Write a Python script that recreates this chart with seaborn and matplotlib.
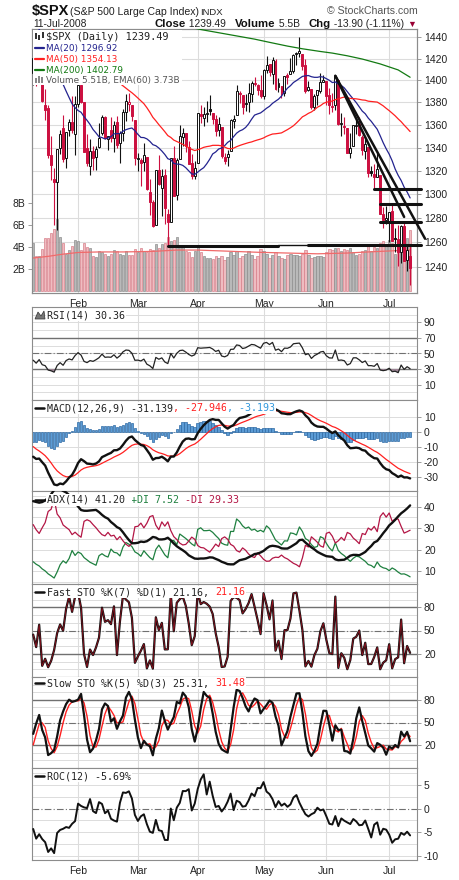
import numpy as np
import pandas as pd
import seaborn as sns
import matplotlib
matplotlib.use("Agg")
from matplotlib import pyplot as plt
from matplotlib import font_manager
from matplotlib.lines import Line2D
from matplotlib.patches import Rectangle, Polygon
from matplotlib.text import Annotation
from matplotlib.ticker import FixedLocator, NullLocator, FuncFormatter

# ---------------------------------------------------------------- data
# closes of Nov 2007, only used to warm up the moving averages / MACD / RSI
nov_close = [1508.44, 1509.65, 1502.17, 1520.27, 1475.62, 1474.77, 1453.70, 1439.18, 1481.05, 1470.58,
             1451.15, 1458.74, 1433.27, 1439.70, 1416.77, 1440.70, 1407.22, 1428.23, 1469.02, 1469.72,
             1481.14]
# sessions 3-Dec-2007 .. 9-Jan-2008 (before the visible window), warm-up for the indicators
prior_high = [1481.16, 1471.34, 1486.09, 1508.02, 1510.63, 1518.27, 1523.57, 1511.96, 1489.40, 1486.67,
              1465.05, 1460.16, 1464.42, 1461.53, 1485.40, 1497.63, 1498.85, 1495.05, 1488.01, 1475.83,
              1471.77, 1456.80, 1444.01, 1423.87, 1430.28, 1409.19]
prior_low = [1470.08, 1460.66, 1465.22, 1482.19, 1502.66, 1504.96, 1475.99, 1468.23, 1469.21, 1467.78,
             1445.43, 1435.65, 1445.31, 1447.22, 1463.19, 1484.55, 1488.20, 1475.86, 1471.70, 1465.13,
             1442.07, 1443.73, 1411.19, 1403.45, 1388.30, 1378.70]
prior_close = [1472.42, 1462.79, 1485.01, 1507.34, 1504.66, 1515.96, 1477.65, 1486.59, 1488.41, 1467.95,
               1445.90, 1454.98, 1453.00, 1460.12, 1484.46, 1496.45, 1497.66, 1476.27, 1478.49, 1468.36,
               1447.16, 1447.16, 1411.63, 1416.18, 1390.19, 1409.13]

# visible sessions 10-Jan-2008 .. 11-Jul-2008
open_ = [1406.78, 1419.91, 1401.60, 1411.88, 1377.41, 1374.79, 1333.90, 1312.94, 1310.41, 1340.13,
         1357.32, 1330.70, 1355.94, 1362.22, 1351.98, 1378.60, 1395.38, 1380.28, 1339.48, 1324.01,
         1336.88, 1331.92, 1340.55, 1353.12, 1367.33, 1347.52, 1355.86, 1348.39, 1362.21, 1344.22,
         1352.75, 1371.76, 1378.95, 1378.16, 1364.07, 1330.45, 1329.58, 1327.69, 1332.20, 1301.53,
         1293.16, 1274.40, 1321.13, 1305.26, 1316.05, 1283.21, 1277.16, 1330.97, 1299.67, 1330.29,
         1349.07, 1352.45, 1340.34, 1327.02, 1315.92, 1326.41, 1369.96, 1365.69, 1369.85, 1373.69,
         1370.16, 1365.50, 1355.37, 1357.98, 1332.20, 1331.72, 1337.02, 1363.37, 1369.00, 1387.72,
         1386.43, 1378.40, 1380.52, 1387.88, 1397.96, 1395.61, 1391.22, 1385.97, 1409.16, 1415.34,
         1405.60, 1417.49, 1394.29, 1394.90, 1388.16, 1404.40, 1405.65, 1408.36, 1423.89, 1425.28,
         1424.49, 1414.06, 1390.83, 1392.20, 1375.97, 1386.54, 1390.50, 1398.36, 1399.62, 1386.42,
         1376.26, 1377.48, 1400.06, 1360.83, 1358.98, 1357.09, 1335.78, 1341.81, 1358.85, 1360.71,
         1349.59, 1336.89, 1341.02, 1319.77, 1317.23, 1314.54, 1316.29, 1283.60, 1278.06, 1276.69,
         1285.82, 1262.96, 1262.90, 1251.84, 1273.38, 1245.25, 1248.66]
high = [1429.09, 1419.91, 1417.28, 1411.88, 1391.99, 1377.72, 1350.28, 1322.09, 1339.09, 1355.15,
        1368.56, 1353.97, 1364.93, 1385.86, 1385.62, 1396.02, 1395.38, 1380.28, 1351.96, 1347.16,
        1341.22, 1341.40, 1362.10, 1369.23, 1368.16, 1350.00, 1367.28, 1363.71, 1367.94, 1354.30,
        1374.36, 1387.34, 1388.34, 1378.16, 1364.07, 1335.13, 1331.03, 1344.19, 1332.20, 1313.24,
        1295.01, 1320.65, 1333.26, 1321.68, 1321.47, 1287.50, 1330.74, 1341.51, 1330.67, 1359.68,
        1357.47, 1352.45, 1345.62, 1334.87, 1328.52, 1370.18, 1377.95, 1375.66, 1380.91, 1386.74,
        1370.16, 1368.39, 1367.24, 1357.98, 1335.64, 1337.72, 1365.49, 1368.60, 1395.90, 1390.23,
        1386.43, 1387.87, 1397.72, 1399.11, 1402.90, 1397.00, 1404.57, 1410.07, 1422.72, 1415.34,
        1421.57, 1419.54, 1402.35, 1394.90, 1404.10, 1406.30, 1420.19, 1424.40, 1425.82, 1440.24,
        1424.49, 1419.12, 1399.07, 1392.20, 1387.40, 1391.25, 1406.32, 1404.46, 1399.62, 1393.12,
        1388.18, 1404.05, 1400.06, 1370.63, 1366.84, 1357.09, 1353.03, 1360.03, 1364.70, 1366.59,
        1350.83, 1347.66, 1341.02, 1323.78, 1326.02, 1335.63, 1316.29, 1289.45, 1290.31, 1285.31,
        1292.17, 1271.48, 1273.95, 1274.17, 1277.36, 1257.65, 1257.27]
low = [1395.31, 1394.83, 1399.00, 1380.60, 1364.27, 1330.67, 1312.51, 1274.29, 1270.05, 1334.31,
       1327.50, 1322.26, 1350.19, 1352.95, 1334.08, 1375.93, 1379.69, 1336.64, 1324.34, 1316.75,
       1321.06, 1320.32, 1339.36, 1350.78, 1347.31, 1338.13, 1345.05, 1336.55, 1339.34, 1327.04,
       1346.03, 1363.29, 1372.00, 1363.16, 1325.42, 1320.04, 1307.39, 1320.22, 1303.42, 1282.43,
       1272.66, 1274.40, 1307.86, 1282.11, 1274.86, 1256.98, 1277.16, 1298.42, 1295.22, 1330.29,
       1341.21, 1336.41, 1325.66, 1312.95, 1312.81, 1326.41, 1361.55, 1358.68, 1362.83, 1369.02,
       1360.62, 1349.97, 1350.11, 1331.21, 1326.16, 1324.35, 1337.02, 1357.25, 1369.00, 1379.25,
       1369.84, 1372.24, 1371.09, 1379.98, 1394.40, 1386.70, 1384.25, 1383.07, 1406.25, 1404.37,
       1397.10, 1391.16, 1389.39, 1384.11, 1386.20, 1396.26, 1405.65, 1406.87, 1414.35, 1421.63,
       1409.09, 1388.81, 1390.23, 1373.72, 1373.07, 1378.16, 1388.59, 1398.08, 1377.79, 1370.12,
       1371.74, 1373.07, 1359.90, 1350.62, 1351.56, 1335.47, 1331.29, 1341.71, 1352.07, 1350.54,
       1333.92, 1330.50, 1314.46, 1315.31, 1304.42, 1314.54, 1283.15, 1272.00, 1274.86, 1260.68,
       1261.51, 1252.01, 1240.68, 1242.84, 1244.57, 1236.76, 1225.35]
close = [1420.33, 1401.02, 1416.25, 1380.95, 1373.20, 1333.25, 1325.19, 1310.50, 1338.60, 1352.07,
         1330.61, 1353.96, 1362.30, 1355.81, 1378.55, 1395.42, 1380.82, 1336.64, 1326.45, 1336.91,
         1331.29, 1339.13, 1348.86, 1367.21, 1348.86, 1349.99, 1348.78, 1360.03, 1342.53, 1353.11,
         1371.80, 1381.29, 1380.02, 1367.68, 1330.63, 1331.34, 1326.75, 1333.70, 1304.34, 1293.37,
         1273.37, 1320.65, 1308.77, 1315.48, 1288.14, 1276.60, 1330.74, 1298.42, 1329.51, 1349.88,
         1352.99, 1341.13, 1325.76, 1315.22, 1322.70, 1370.18, 1367.53, 1369.31, 1370.40, 1372.54,
         1365.54, 1354.49, 1360.55, 1332.83, 1328.32, 1334.43, 1364.71, 1365.56, 1390.33, 1388.17,
         1375.94, 1379.93, 1388.82, 1397.84, 1396.37, 1390.94, 1385.59, 1409.34, 1413.90, 1407.49,
         1418.26, 1392.57, 1397.68, 1388.28, 1403.58, 1403.04, 1408.66, 1423.57, 1425.35, 1426.63,
         1413.40, 1390.71, 1394.35, 1375.93, 1385.35, 1390.84, 1398.26, 1400.38, 1385.67, 1377.65,
         1377.20, 1404.05, 1360.68, 1361.76, 1358.44, 1335.49, 1339.87, 1360.03, 1360.14, 1350.93,
         1337.81, 1342.83, 1317.93, 1318.00, 1314.29, 1321.97, 1283.15, 1278.38, 1280.00, 1284.91,
         1261.52, 1262.90, 1252.31, 1273.70, 1244.69, 1253.39, 1239.49]
volume = [4.4, 3.2, 3.2, 3.8, 4.8, 4.8, 5.3, 5.6, 6.5, 4.9,
          4.4, 3.4, 3.7, 4.1, 4.6, 4.5, 3.7, 4.4, 4.0, 3.9,
          3.2, 3.1, 3.6, 3.5, 3.4, 3.2, 3.4, 3.7, 3.6, 3.4,
          3.3, 3.6, 3.3, 3.3, 3.8, 3.5, 3.9, 3.6, 3.5, 3.8,
          3.7, 4.3, 3.9, 4.3, 4.4, 4.9, 4.5, 4.6, 4.9, 4.2,
          4.0, 3.6, 3.5, 3.1, 3.6, 4.0, 3.5, 3.2, 3.0, 3.0,
          2.9, 3.2, 3.0, 3.2, 2.8, 3.1, 3.5, 3.3, 3.6, 3.0,
          3.2, 3.4, 3.6, 3.3, 2.9, 3.2, 3.8, 3.6, 3.4, 3.0,
          3.3, 3.5, 3.2, 3.0, 2.9, 3.3, 3.4, 3.3, 3.3, 3.2,
          3.4, 3.7, 3.3, 3.0, 3.1, 3.2, 3.2, 3.1, 3.5, 3.8,
          3.7, 3.9, 3.9, 3.6, 3.8, 3.7, 3.9, 3.5, 3.3, 3.4,
          3.6, 3.7, 4.2, 3.6, 4.0, 3.9, 4.4, 4.5, 4.2, 4.6,
          4.4, 3.4, 4.2, 4.7, 4.5, 4.8, 5.51]

# lines (session index, value)
ma200_idx = [48, 56, 63, 66, 74, 79, 85, 90, 96, 100, 105, 110, 116, 122, 126]
ma200_val = [1452, 1447, 1443.5, 1442, 1438, 1435, 1431.5, 1429, 1426.5, 1425, 1422.5, 1419.5, 1415, 1409.5, 1402.79]
vol_ema_idx = [0, 5, 10, 15, 22, 30, 40, 48, 55, 65, 75, 85, 95, 105, 112, 120, 126]
vol_ema_val = [3.0, 3.15, 3.35, 3.5, 3.55, 3.55, 3.6, 3.72, 3.72, 3.62, 3.52, 3.45, 3.38, 3.45, 3.55, 3.65, 3.73]

# hand-drawn annotation lines
trend_x0 = [101, 101]
trend_y0 = [1404.05, 1404.05]
trend_x1 = [131, 124]
trend_y1 = [1263, 1281]
hline_level = [1257, 1258, 1258, 1304.5, 1292.2, 1277.2]
hline_start = [45, 82, 92, 114, 116, 116]
hline_end = [82, 92, 129.7, 129.7, 129.7, 129.7]
hline_width = [2.2, 1.0, 2.2, 2.2, 2.2, 2.2]

month_idx = [15, 35, 55, 77, 98, 119]
month_lbl = ["Feb", "Mar", "Apr", "May", "Jun", "Jul"]
price_ticks = [1240, 1260, 1280, 1300, 1320, 1340, 1360, 1380, 1400, 1420, 1440]

# ---------------------------------------------------------------- style
sns.set_style("white")


def pick(*names):
    for name in names:
        try:
            font_manager.findfont(name, fallback_to_default=False)
            return name
        except Exception:
            pass
    return "DejaVu Sans"


SANS = pick("Liberation Sans", "DejaVu Sans")
NARROW = pick("Liberation Sans Narrow", "Liberation Sans", "DejaVu Sans")
MONO = pick("DejaVu Sans Mono", "Liberation Mono")
plt.rcParams["font.family"] = [SANS, "DejaVu Sans"]

RED = "#cc1040"
FRAME = "#8c8c8c"
GRID = "#dcdcdc"
DARK = "#707070"
W, H = 460, 880
L, R = 32, 417
XLIM = (-0.4, 128.3)

# ---------------------------------------------------------------- indicators
c_full = pd.Series(prior_close + close)
c_long = pd.Series(nov_close + prior_close + close)
h_full = pd.Series(prior_high + high)
l_full = pd.Series(prior_low + low)
x = np.arange(len(close))


def window(s):
    return np.asarray(s, dtype=float)[-len(close):]


def wilder(s):
    return s.ewm(alpha=1 / 14, adjust=False).mean()


ma20 = window(c_long.rolling(20).mean())
ma50 = window(c_long.rolling(50).mean())

delta = c_long.diff().fillna(0)
rsi = window(100 - 100 / (1 + wilder(delta.clip(lower=0)) / wilder(-delta.clip(upper=0))))

macd_s = c_long.ewm(span=12, adjust=False).mean() - c_long.ewm(span=26, adjust=False).mean()
signal_s = macd_s.ewm(span=9, adjust=False).mean()
macd, signal = window(macd_s), window(signal_s)
hist = macd - signal

up_move = h_full.diff().fillna(0)
down_move = (-l_full.diff()).fillna(0)
plus_dm = pd.Series(np.where((up_move > down_move) & (up_move > 0), up_move, 0.0))
minus_dm = pd.Series(np.where((down_move > up_move) & (down_move > 0), down_move, 0.0))
prev_c = c_full.shift(1)
tr = pd.concat([h_full - l_full, (h_full - prev_c).abs(), (l_full - prev_c).abs()], axis=1).max(axis=1)
pdi_s = 100 * wilder(plus_dm) / wilder(tr)
mdi_s = 100 * wilder(minus_dm) / wilder(tr)
adx_s = wilder(100 * (pdi_s - mdi_s).abs() / (pdi_s + mdi_s))
pdi, mdi, adx = window(pdi_s), window(mdi_s), window(adx_s)

fast_k = window(100 * (c_full - l_full.rolling(7).min()) / (h_full.rolling(7).max() - l_full.rolling(7).min()))
k5 = 100 * (c_full - l_full.rolling(5).min()) / (h_full.rolling(5).max() - l_full.rolling(5).min())
slow_k_s = k5.rolling(3).mean()
slow_k, slow_d = window(slow_k_s), window(slow_k_s.rolling(3).mean())
roc = window(100 * (c_full / c_full.shift(12) - 1))

# ---------------------------------------------------------------- figure
fig = plt.figure(figsize=(W / 100, H / 100), dpi=100)


def panel(top, bottom):
    ax = fig.add_axes([L / W, 1 - bottom / H, (R - L) / W, (bottom - top) / H])
    ax.set_facecolor("white")
    for sp in ax.spines.values():
        sp.set_color(FRAME)
        sp.set_linewidth(0.8)
    ax.set_xlim(*XLIM)
    return ax


def indicator(top, bottom, lo, hi, ticks, grid, strong=(), dashdot=()):
    ax = panel(top, bottom)
    ax.set_ylim(lo, hi)
    for g in grid:
        ax.axhline(g, color=GRID, lw=0.7, zorder=0)
    for m in month_idx:
        ax.axvline(m, color=GRID, lw=0.8, zorder=0)
    for s in strong:
        ax.axhline(s, color=DARK, lw=1.0, zorder=1)
    for d in dashdot:
        ax.axhline(d, color=DARK, lw=0.8, dashes=(6, 2, 1, 2), zorder=1)
    ax.yaxis.tick_right()
    ax.set_yticks(ticks)
    ax.set_yticklabels([f"{t:g}" for t in ticks])
    ax.tick_params(axis="y", direction="out", length=3, width=0.6, color=FRAME,
                   labelsize=7.5, labelfontfamily=NARROW, labelcolor="#222222", pad=2)
    ax.set_xticks([])
    return ax


def line(ax, xs, ys, color, lw, z=3):
    xs = np.asarray(xs, dtype=float)
    ys = np.asarray(ys, dtype=float)
    ok = ~np.isnan(ys)
    sns.lineplot(x=xs[ok], y=ys[ok], ax=ax, color=color, linewidth=lw, zorder=z, legend=False)
    ax.set_xlabel("")
    ax.set_ylabel("")


# ---- price + volume
ax_vol = panel(29, 293)
VLO, VHI = -0.18, 23.8
PLO, PHI = 1219.2, 1447.5
ax_vol.set_ylim(VLO, VHI)
for p in price_ticks:
    f = (np.log(p) - np.log(PLO)) / (np.log(PHI) - np.log(PLO))
    ax_vol.axhline(VLO + f * (VHI - VLO), color=GRID, lw=0.8, zorder=0)
for m in month_idx:
    ax_vol.axvline(m, color=GRID, lw=0.8, zorder=0)

close_a, open_a = np.array(close), np.array(open_)
prev_close = np.array(prior_close[-1:] + close[:-1])
up = close_a >= prev_close
ax_vol.bar(x, volume, width=0.78, color=np.where(up, "#b9b9b9", "#efbcc1"),
           edgecolor=np.where(up, "#8e8e8e", "#d8808b"), linewidth=0.5, zorder=2)
line(ax_vol, vol_ema_idx, vol_ema_val, "#f06a6a", 0.9)
ax_vol.set_yticks([2, 4, 6, 8])
ax_vol.set_yticklabels(["2B", "4B", "6B", "8B"])
ax_vol.tick_params(axis="y", direction="out", length=3, width=0.6, color=FRAME,
                   labelsize=7.5, labelfontfamily=NARROW, labelcolor="#222222", pad=2)
ax_vol.set_xticks(month_idx)
ax_vol.set_xticklabels(month_lbl)
ax_vol.set_xticks(x, minor=True)
ax_vol.tick_params(axis="x", which="major", length=3, width=0.6, color=FRAME,
                   labelsize=7.5, labelfontfamily=SANS, labelcolor="#222222", pad=1.5)
ax_vol.tick_params(axis="x", which="minor", length=1.5, width=0.5, color="#a0a0a0")

ax_px = ax_vol.twinx()
ax_px.set_yscale("log")
for sp in ax_px.spines.values():
    sp.set_color(FRAME)
    sp.set_linewidth(0.8)

edge = np.where(up, "#111111", RED)
face = np.where(close_a >= open_a, "white", edge)
ax_px.vlines(x, low, high, colors=edge, lw=0.8, zorder=3)
ax_px.bar(x, np.maximum(np.abs(close_a - open_a), 0.6), bottom=np.minimum(open_a, close_a),
          width=0.66, color=face, edgecolor=edge, linewidth=0.7, zorder=4)
line(ax_px, x, ma20, "#23238f", 0.9, 5)
line(ax_px, x, ma50, "#ff2020", 0.9, 5)
line(ax_px, ma200_idx, ma200_val, "#137a13", 0.9, 5)
for x0, y0, x1, y1 in zip(trend_x0, trend_y0, trend_x1, trend_y1):
    ax_px.plot([x0, x1], [y0, y1], color="#111111", lw=1.8, zorder=6, clip_on=False)
for lv, a, b, w in zip(hline_level, hline_start, hline_end, hline_width):
    ax_px.plot([a, b], [lv, lv], color="#111111", lw=w, zorder=6, clip_on=False)

ax_px.set_ylim(PLO, PHI)
ax_px.yaxis.set_major_locator(FixedLocator(price_ticks))
ax_px.yaxis.set_minor_locator(NullLocator())
ax_px.yaxis.set_major_formatter(FuncFormatter(lambda v, pos: f"{v:.0f}"))
ax_px.tick_params(axis="y", which="major", direction="out", length=3, width=0.6, color=FRAME,
                  labelsize=7.5, labelfontfamily=NARROW, labelcolor="#222222", pad=2)
ax_px.set_xlim(*XLIM)

# ---- RSI
ax_rsi = indicator(307, 400, -10, 110, [10, 30, 50, 70, 90], range(0, 101, 10),
                   strong=(30, 70), dashdot=(50,))
ax_rsi.fill_between(x, rsi, 30, where=rsi < 30, interpolate=True, color="#9c8494", zorder=2, lw=0)
line(ax_rsi, x, rsi, "#222222", 0.9)

# ---- MACD
ax_macd = indicator(400, 491, -39.6, 21.6, [10, 0, -10, -20, -30], [10, 0, -10, -20, -30])
ax_macd.bar(x, hist, width=0.85, color="#5b9bd5", edgecolor="#2f6aa3", linewidth=0.5, zorder=2)
line(ax_macd, x, signal, "#ff2020", 0.9, 3)
line(ax_macd, x, macd, "#111111", 1.7, 4)

# ---- ADX
ax_adx = indicator(491, 584, 4.2, 47.2, [10, 20, 30, 40], range(5, 46, 5))
line(ax_adx, x, pdi, "#1f8040", 0.9)
line(ax_adx, x, mdi, "#b31645", 0.9)
line(ax_adx, x, adx, "#111111", 1.7, 4)

# ---- Fast stochastic
ax_fs = indicator(584, 677, -10, 110, [20, 50, 80], range(0, 101, 10), strong=(20, 80), dashdot=(50,))
line(ax_fs, x, fast_k, "#111111", 1.6, 3)
line(ax_fs, x, fast_k, "#a01020", 0.5, 4)

# ---- Slow stochastic
ax_ss = indicator(677, 768, -10, 110, [20, 50, 80], range(0, 101, 10), strong=(20, 80), dashdot=(50,))
line(ax_ss, x, slow_d, "#ff2020", 1.0, 3)
line(ax_ss, x, slow_k, "#111111", 1.6, 4)

# ---- ROC
ax_roc = indicator(768, 860, -10.9, 8.6, [5, 0, -5, -10], [7.5, 5, 2.5, -2.5, -5, -7.5, -10], dashdot=(0,))
line(ax_roc, x, roc, "#111111", 1.4)
ax_roc.set_xticks(month_idx)
ax_roc.set_xticklabels(month_lbl)
ax_roc.set_xticks(x, minor=True)
ax_roc.tick_params(axis="x", which="major", length=3, width=0.6, color=FRAME,
                   labelsize=7.5, labelfontfamily=SANS, labelcolor="#222222", pad=1.5)
ax_roc.tick_params(axis="x", which="minor", length=1.5, width=0.5, color="#a0a0a0")

for ax in (ax_rsi, ax_macd, ax_adx, ax_fs, ax_ss, ax_roc, ax_vol):
    ax.set_xlim(*XLIM)


# ---------------------------------------------------------------- texts
def rich(xpx, ypx, parts, family, bg=False):
    prev = None
    for s, color, weight, size in parts:
        kw = dict(color=color, fontsize=size, family=family, fontweight=weight, zorder=8)
        if bg:
            kw["bbox"] = dict(facecolor="white", edgecolor="none", pad=0.6)
        if prev is None:
            prev = fig.text(xpx / W, 1 - ypx / H, s, ha="left", va="baseline", **kw)
        else:
            prev = fig.add_artist(Annotation(s, xy=(1, 0), xycoords=prev, ha="left", va="bottom", **kw))
    return prev


def icon_line(x0, x1, ypx, color, lw=1.8):
    fig.add_artist(Line2D([x0 / W, x1 / W], [1 - ypx / H] * 2, color=color, lw=lw, zorder=9,
                          transform=fig.transFigure))


def icon_bars(specs, color):
    for bx, by, bh in specs:
        fig.add_artist(Rectangle((bx / W, 1 - (by + bh) / H), 2 / W, bh / H, facecolor=color,
                                 edgecolor="none", zorder=9, transform=fig.transFigure))


hdr = [SANS, "DejaVu Sans"]
rich(32, 15, [("$SPX", "#111111", "bold", 10.5)], hdr)
rich(70, 15, [("(S&P 500 Large Cap Index)", "#222222", "normal", 7.6)], hdr)
rich(200, 15, [("INDX", "#222222", "normal", 6.8)], hdr)
rich(327, 14, [("\u00a9 StockCharts.com", "#555555", "normal", 7.6)], hdr)
rich(33, 27, [("11-Jul-2008", "#222222", "normal", 7.4)], hdr)
rich(155, 27, [("Close", "#111111", "bold", 8.2), (" 1239.49", "#222222", "normal", 7.4)], hdr)
rich(235, 27, [("Volume", "#111111", "bold", 8.2), (" 5.5B", "#222222", "normal", 7.4)], hdr)
rich(309, 27, [("Chg", "#111111", "bold", 8.2), (" -13.90 (-1.11%) ", "#222222", "normal", 7.4),
               ("\u25bc", "#990033", "normal", 6.5)], hdr)

# main legend on a white box
fig.add_artist(Rectangle((33 / W, 1 - 85 / H), (182 - 33) / W, (85 - 29.8) / H, facecolor="white",
                         edgecolor="none", zorder=5, transform=fig.transFigure))
icon_bars([(35, 33, 6), (38.5, 35, 5), (42, 32, 6)], "#333333")
rich(46, 40, [("$SPX (Daily) 1239.49", "#222222", "normal", 7.4)], [MONO, "DejaVu Sans"])
for ypx, txt, col in [(51, "MA(20) 1296.92", "#23238f"), (62, "MA(50) 1354.13", "#ff2020"),
                      (73, "MA(200) 1402.79", "#137a13")]:
    icon_line(35, 44, ypx - 3, col, 1.6)
    rich(46, ypx, [(txt, col, "normal", 6.4)], ["DejaVu Sans"])
icon_bars([(35, 78, 5), (38, 76, 7), (41, 77, 6)], "#888888")
rich(46, 83, [("Volume 5.51B, EMA(60) 3.73B", "#555555", "normal", 6.4)], ["DejaVu Sans"])

mono = [MONO, "DejaVu Sans"]
fig.add_artist(Polygon([(35 / W, 1 - 319 / H), (38 / W, 1 - 312 / H), (41 / W, 1 - 316 / H),
                        (44 / W, 1 - 311 / H), (45 / W, 1 - 319 / H)], closed=True,
                       facecolor="#777777", edgecolor="#333333", lw=0.5, zorder=9, transform=fig.transFigure))
rich(47, 318, [("RSI(14) 30.36", "#222222", "normal", 7.2)], mono, bg=True)
icon_line(35, 44, 408, "#111111")
rich(47, 411, [("MACD(12,26,9) -31.139", "#222222", "normal", 7.2), (", -27.946", "#ff2020", "normal", 7.2),
               (", -3.193", "#3399dd", "normal", 7.2)], mono, bg=True)
icon_line(35, 44, 500, "#111111")
rich(47, 503, [("ADX(14) 41.20 ", "#222222", "normal", 7.2), ("+DI 7.52 ", "#1f8040", "normal", 7.2),
               ("-DI 29.33", "#b31645", "normal", 7.2)], mono, bg=True)
icon_line(35, 44, 592, "#111111")
rich(47, 595, [("Fast STO %K(7) %D(1) 21.16, ", "#222222", "normal", 7.2), ("21.16", "#ff2020", "normal", 7.2)],
     mono, bg=True)
icon_line(35, 44, 683, "#111111")
rich(47, 686, [("Slow STO %K(5) %D(3) 25.31, ", "#222222", "normal", 7.2), ("31.48", "#ff2020", "normal", 7.2)],
     mono, bg=True)
icon_line(35, 44, 776, "#111111")
rich(47, 779, [("ROC(12) -5.69%", "#222222", "normal", 7.2)], mono, bg=True)

fig.savefig("out.png", dpi=100)
